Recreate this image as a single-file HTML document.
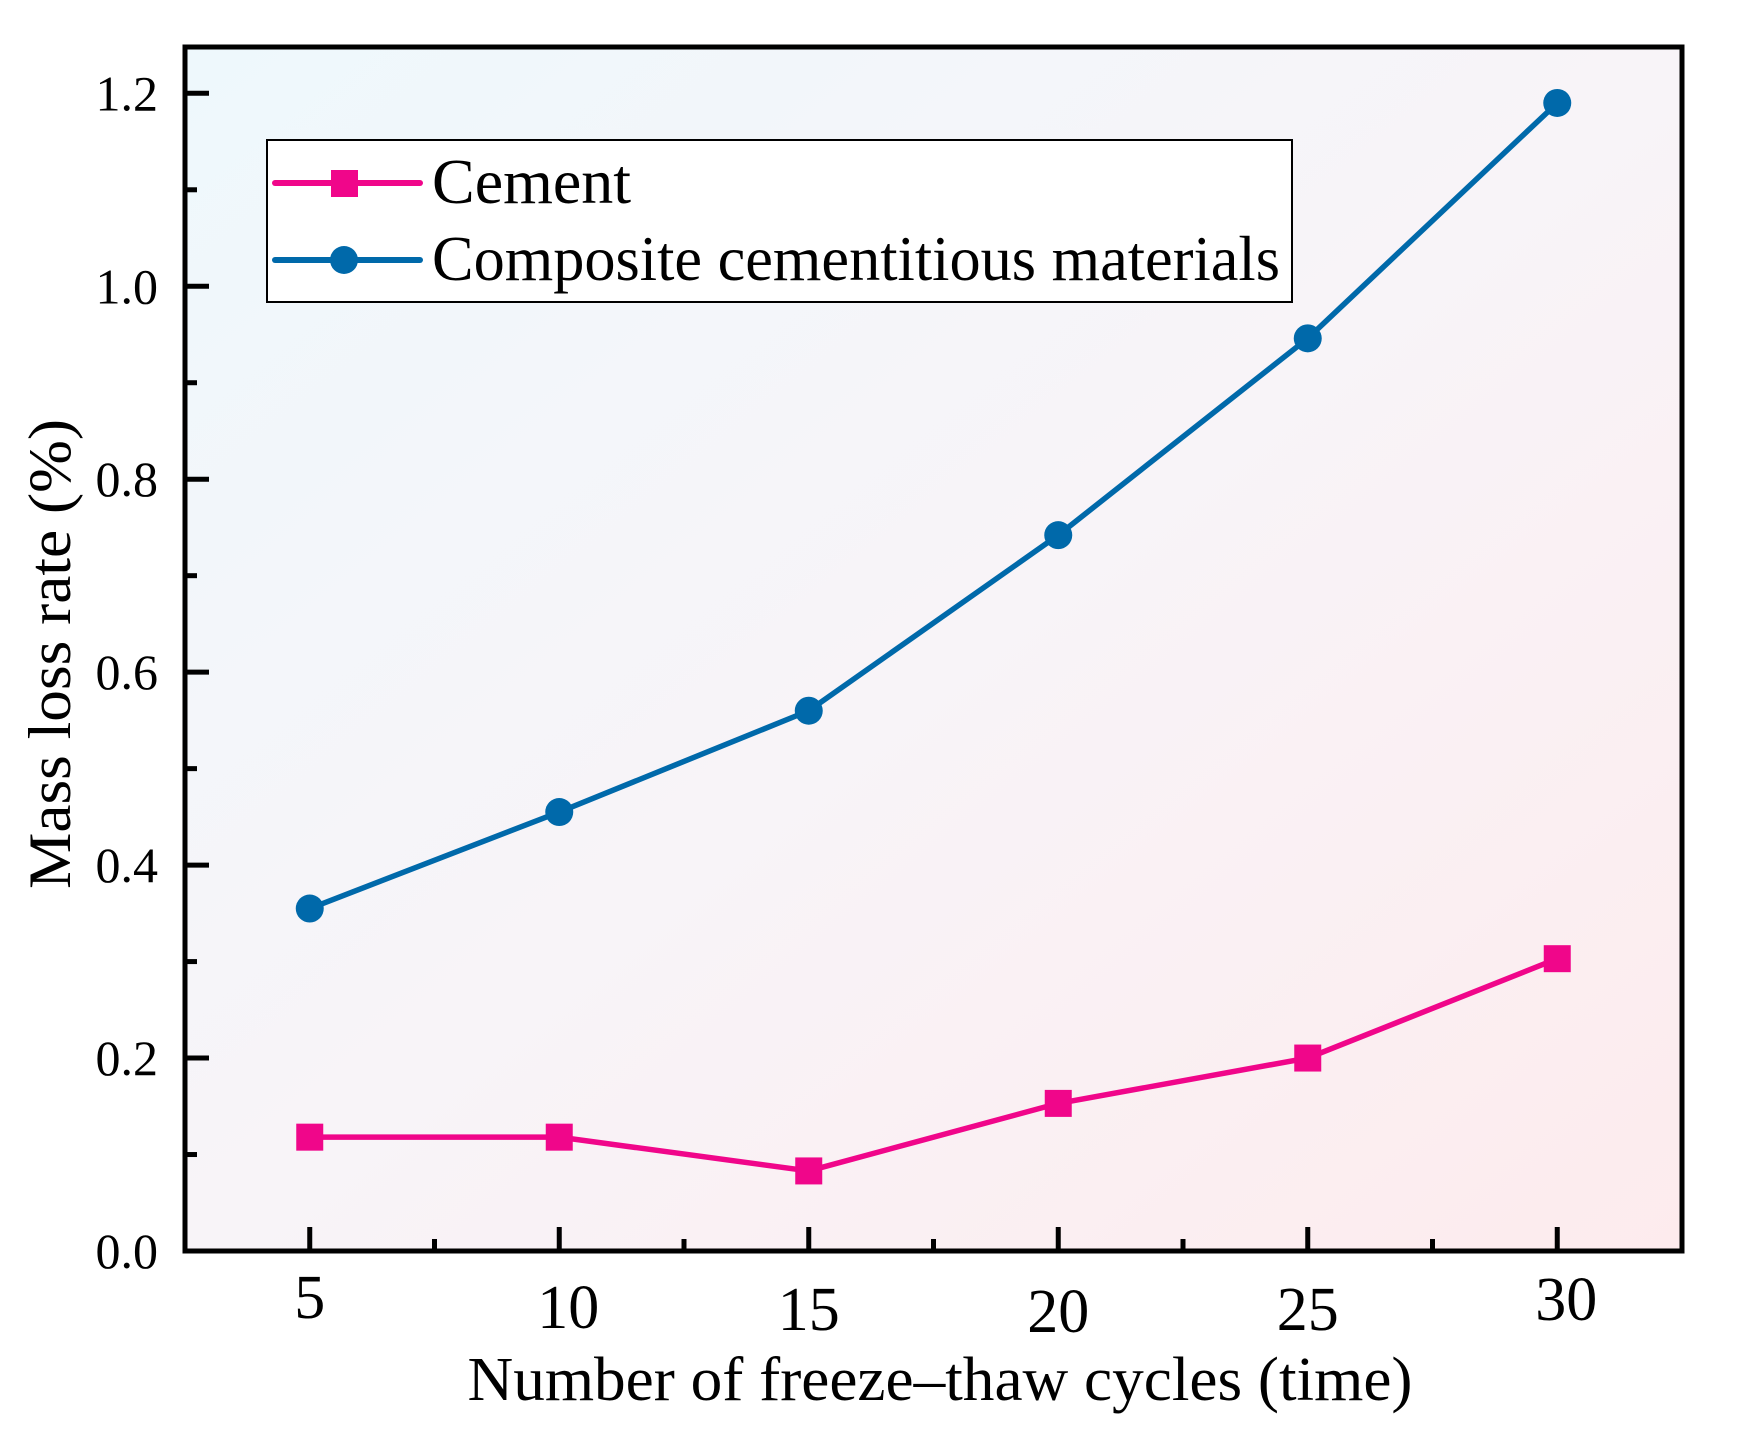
<!DOCTYPE html>
<html><head><meta charset="utf-8"><style>
html,body{margin:0;padding:0;background:#fff;}
svg{display:block;font-family:"Liberation Serif",serif;}
</style></head><body>
<svg id="chart" width="1746" height="1451" viewBox="0 0 1746 1451" xmlns="http://www.w3.org/2000/svg">
<defs>
<linearGradient id="bg" x1="0" y1="0" x2="1" y2="1">
<stop offset="0" stop-color="#eef8fc"/>
<stop offset="0.5" stop-color="#f8f4f8"/>
<stop offset="1" stop-color="#fdebed"/>
</linearGradient>
</defs>
<rect x="185" y="47" width="1497" height="1204" fill="url(#bg)"/>
<g id="ticks"></g>
<g id="series"></g>
<rect x="185" y="47" width="1497" height="1204" fill="none" stroke="#000" stroke-width="5"/>
<g>
<rect x="267" y="140" width="1025" height="162" fill="#fff" stroke="#000" stroke-width="2"/>
<g>
<line x1="275" y1="183" x2="420" y2="183" stroke="#f0068a" stroke-width="6" stroke-linecap="round"/>
<rect x="331" y="170" width="27" height="27" fill="#f0068a"/>
<text x="432" y="203" font-size="64" fill="#000">Cement</text>
</g>
<g>
<line x1="275" y1="260" x2="420" y2="260" stroke="#0069aa" stroke-width="6" stroke-linecap="round"/>
<circle cx="344" cy="260" r="14" fill="#0069aa"/>
<text x="432" y="280" font-size="64" fill="#000" textLength="848" lengthAdjust="spacingAndGlyphs">Composite cementitious materials</text>
</g>
</g>
<text x="940" y="1400" font-size="62" text-anchor="middle" textLength="945" lengthAdjust="spacingAndGlyphs">Number of freeze–thaw cycles (time)</text>
<text transform="translate(70,654) rotate(-90)" font-size="60" text-anchor="middle" textLength="470" lengthAdjust="spacingAndGlyphs">Mass loss rate (%)</text>
</svg>
<script>
const categories = [5, 10, 15, 20, 25, 30];
const cementValues = [0.118, 0.118, 0.083, 0.153, 0.200, 0.303];
const compositeValues = [0.355, 0.455, 0.560, 0.742, 0.946, 1.190];
const yTickLabels = ["0.0","0.2","0.4","0.6","0.8","1.0","1.2"];
const xTickLabels = ["5","10","15","20","25","30"];

const NS = "http://www.w3.org/2000/svg";
const L = 185, R = 1682, T = 47, B = 1251;
const xMin = 2.5, xMax = 32.5, yMin = 0, yMax = 1.248;
function xs(v){ return L + (v - xMin) / (xMax - xMin) * (R - L); }
function ys(v){ return B - (v - yMin) / (yMax - yMin) * (B - T); }
function mk(tag, attrs, parent){ const e = document.createElementNS(NS, tag); for (const k in attrs) e.setAttribute(k, attrs[k]); parent.appendChild(e); return e; }

const tg = document.getElementById('ticks');
yTickLabels.forEach((lab, i) => {
  const v = parseFloat(lab);
  const y = ys(v);
  const t = mk('line', {x1: L, y1: y, x2: L + 24, y2: y, stroke: '#000', 'stroke-width': 5}, tg);
  
  
  const tx = mk('text', {x: 158, y: y + 17, 'font-size': 50, 'text-anchor': 'end'}, tg);
  tx.textContent = lab;
  
  
  if (i < yTickLabels.length - 1) {
    const ym = ys(v + 0.1);
    const m = mk('line', {x1: L, y1: ym, x2: L + 12, y2: ym, stroke: '#000', 'stroke-width': 5}, tg);
    
    
  }
});
const labelDx = [0, 9, 0, 0, 0, 9];
const labelDy = [0, 10, 12, 14, 12, 2];
categories.forEach((c, i) => {
  const x = xs(c);
  const t = mk('line', {x1: x, y1: B, x2: x, y2: B - 24, stroke: '#000', 'stroke-width': 5}, tg);
  
  
  const tx = mk('text', {x: x + labelDx[i], y: 1318 + labelDy[i], 'font-size': 62, 'text-anchor': 'middle'}, tg);
  tx.textContent = xTickLabels[i];
  
  
  if (i < categories.length - 1) {
    const xm = xs(c + 2.5);
    const m = mk('line', {x1: xm, y1: B, x2: xm, y2: B - 12, stroke: '#000', 'stroke-width': 5}, tg);
    
    
  }
});

const sg = document.getElementById('series');
function drawSeries(vals, color, shape, name){
  const g = mk('g', {}, sg);
  
  
  const pts = vals.map((v, i) => xs(categories[i]) + ',' + ys(v)).join(' ');
  const pl = mk('polyline', {points: pts, fill: 'none', stroke: color, 'stroke-width': 5.5, 'stroke-linejoin': 'round'}, g);
  
  
  vals.forEach((v, i) => {
    const x = xs(categories[i]), y = ys(v);
    let p;
    if (shape === 'square') p = mk('rect', {x: x - 13.5, y: y - 13.5, width: 27, height: 27, fill: color}, g);
    else p = mk('circle', {cx: x, cy: y, r: 14, fill: color}, g);
    
    
  });
}
drawSeries(cementValues, '#f0068a', 'square', 'cement');
drawSeries(compositeValues, '#0069aa', 'circle', 'composite');
</script>
</body></html>
